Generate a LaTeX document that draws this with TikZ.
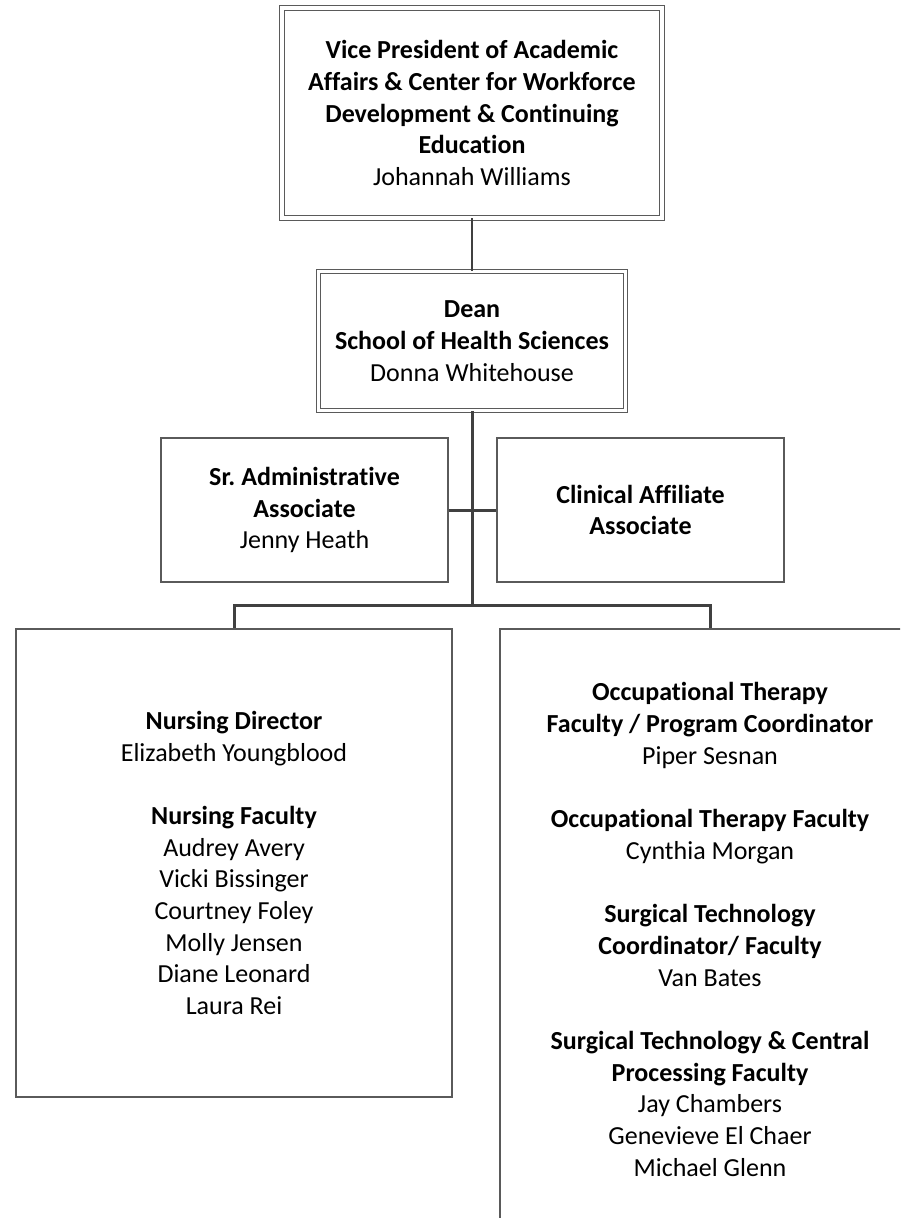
\documentclass[tikz,border=0pt]{standalone}
\usepackage{fontspec}
\setmainfont{Carlito}[Ligatures={NoCommon}]
\usepackage{tikz}
\usetikzlibrary{positioning}
\definecolor{chartline}{HTML}{404040}
\definecolor{chartedge}{HTML}{5A5A5A}
\newcommand{\chartfont}{\fontsize{13pt}{15.85pt}\selectfont}
\tikzset{
  box/.style={draw=chartedge, line width=0.8pt, fill=white, align=center,
              font=\chartfont, inner sep=0pt},
  dbox/.style={box, line width=0.5pt, double=white, double distance=1.6pt},
  link/.style={draw=chartline, line width=1.5pt},
}

\begin{document}
\begin{tikzpicture}[x=0.5pt, y=-0.5pt]
  \clip (0,0) rectangle (900,1218);
  \fill[white] (0,0) rectangle (900,1218);

  \node[dbox, minimum width=190pt, minimum height=105pt] (vp) at (472,113)
    {\textbf{Vice President of Academic}\\ \textbf{Affairs \& Center for Workforce}\\
     \textbf{Development \& Continuing}\\ \textbf{Education}\\ Johannah Williams};
  \node[dbox, minimum width=153.5pt, minimum height=69.5pt] (dean) at (472,341)
    {\textbf{Dean}\\ \textbf{School of Health Sciences}\\ Donna Whitehouse};
  \node[box, minimum width=143.5pt, minimum height=72pt] (admin) at (304.5,510)
    {\textbf{Sr.\ Administrative}\\ \textbf{Associate}\\ Jenny Heath};
  \node[box, minimum width=143.5pt, minimum height=72pt] (clinical) at (640.5,510)
    {\textbf{Clinical Affiliate}\\ \textbf{Associate}};
  \node[box, minimum width=218pt, minimum height=234pt] (nursing) at (234,863)
    {\textbf{Nursing Director}\\ Elizabeth Youngblood\\[15.85pt]
     \textbf{Nursing Faculty}\\ Audrey Avery\\ Vicki Bissinger\\ Courtney Foley\\
     Molly Jensen\\ Diane Leonard\\ Laura Rei};
  \node[box, minimum width=210pt, minimum height=300.5pt] (health) at (710,929.5)
    {\textbf{Occupational Therapy}\\ \textbf{Faculty / Program Coordinator}\\ Piper Sesnan\\[15.85pt]
     \textbf{Occupational Therapy Faculty}\\ Cynthia Morgan\\[15.85pt]
     \textbf{Surgical Technology}\\ \textbf{Coordinator/ Faculty}\\ Van Bates\\[15.85pt]
     \textbf{Surgical Technology \& Central}\\ \textbf{Processing Faculty}\\
     Jay Chambers\\ Genevieve El Chaer\\ Michael Glenn};

  \coordinate (bus) at (472,605);

  % connectors
  \draw[link, line width=1pt] (vp.south) -- (dean.north);
  \draw[link] (dean.south) -- (bus);
  \draw[link] (admin.east) -- (clinical.west);
  \draw[link] (nursing.north) |- (bus) -| (health.north);
\end{tikzpicture}
\end{document}
